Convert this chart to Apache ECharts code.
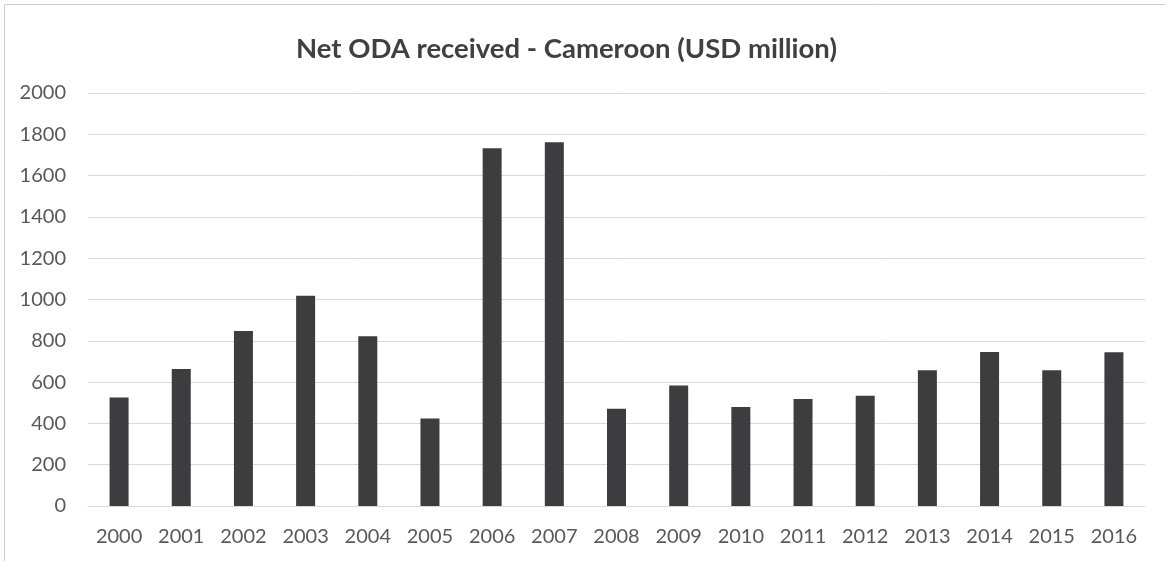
<!DOCTYPE html>
<html>
<head>
<meta charset="utf-8">
<script src="https://cdn.jsdelivr.net/npm/echarts@6/dist/echarts.min.js"></script>
<style>
html,body{margin:0;padding:0;background:#fff;}
#chart{width:1166px;height:561px;}
</style>
</head>
<body>
<div id="chart"></div>
<script>
const years = ['2000','2001','2002','2003','2004','2005','2006','2007','2008','2009','2010','2011','2012','2013','2014','2015','2016'];
const netODA = [525, 663, 847, 1018, 822, 424, 1732, 1761, 471, 583, 479, 518, 534, 657, 746, 657, 744];
const titleText = 'Net ODA received - Cameroon (USD million)';

const chart = echarts.init(document.getElementById('chart'));
chart.setOption({
  backgroundColor: '#ffffff',
  animation: false,
  title: {
    text: titleText,
    left: 291,
    top: 30,
    textStyle: { fontFamily: 'Lato, "Open Sans", sans-serif', fontSize: 27.5, fontWeight: 'bold', color: '#404040' }
  },
  graphic: [{
    type: 'rect',
    shape: { x: 4.5, y: 4.5, width: 1200, height: 600 },
    style: { fill: 'none', stroke: '#d0d0d0', lineWidth: 1 },
    silent: true
  }],
  grid: { left: 88, right: 21, top: 93, bottom: 55, containLabel: false },
  xAxis: {
    type: 'category',
    data: years,
    axisLine: { show: true, lineStyle: { color: '#d9d9d9', width: 1 } },
    axisTick: { show: false },
    axisLabel: { fontFamily: 'Lato, "Open Sans", sans-serif', fontSize: 20, color: '#595959', margin: 21 }
  },
  yAxis: {
    type: 'value',
    min: 0, max: 2000, interval: 200,
    axisLine: { show: false },
    axisTick: { show: false },
    splitLine: { lineStyle: { color: '#d9d9d9', width: 1 } },
    axisLabel: { fontFamily: 'Lato, "Open Sans", sans-serif', fontSize: 20, color: '#595959', margin: 22, formatter: v => String(v) }
  },
  series: [{
    type: 'bar',
    data: netODA,
    barWidth: 19,
    itemStyle: { color: '#3d3d3f' }
  }]
});
</script>
</body>
</html>
